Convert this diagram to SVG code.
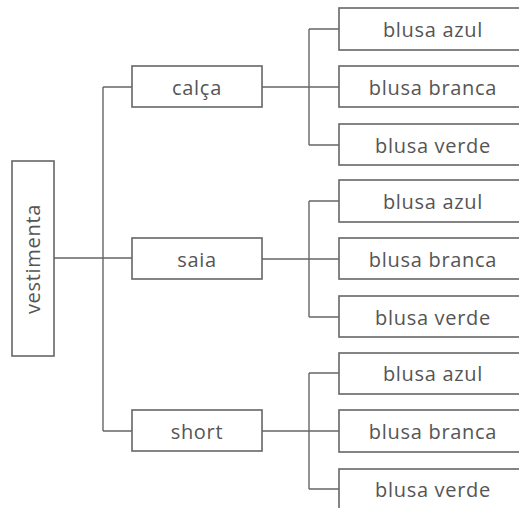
<svg xmlns="http://www.w3.org/2000/svg" width="519" height="508" viewBox="0 0 519 508">
<style>
rect{fill:#fff;stroke:#666;stroke-width:1.6}
text{font-family:"Open Sans","Noto Sans",sans-serif;font-size:20px;letter-spacing:0.7px;fill:#555;text-anchor:middle}
.c path{fill:none;stroke:#666;stroke-width:1.4}
</style>
<rect width="519" height="508" style="fill:#fff;stroke:none"/>
<g class="c" id="connectors">
<path d="M54 258H132M103 87V431M103 87H132M103 431H132"/>
<path d="M262 87H339M309 29V145M309 29H339M309 145H339"/>
<path d="M262 259H339M309 201V317M309 201H339M309 317H339"/>
<path d="M262 431H339M309 373V489M309 373H339M309 489H339"/>
</g>
<g id="vestimenta"><rect x="12" y="161" width="42" height="195"/><text transform="translate(40 259) rotate(-90)">vestimenta</text></g>
<g id="calca"><rect x="132" y="66" width="130" height="41"/><text x="197" y="95">calça</text></g>
<g id="saia"><rect x="132" y="238" width="130" height="41"/><text x="197" y="267">saia</text></g>
<g id="short"><rect x="132" y="410" width="130" height="41"/><text x="197" y="439">short</text></g>
<g id="c-azul"><rect x="339" y="8" width="188" height="42"/><text x="433" y="37">blusa azul</text></g>
<g id="c-branca"><rect x="339" y="66" width="188" height="41"/><text x="433" y="95">blusa branca</text></g>
<g id="c-verde"><rect x="339" y="124" width="188" height="41"/><text x="433" y="153">blusa verde</text></g>
<g id="s-azul"><rect x="339" y="180" width="188" height="42"/><text x="433" y="209">blusa azul</text></g>
<g id="s-branca"><rect x="339" y="238" width="188" height="41"/><text x="433" y="267">blusa branca</text></g>
<g id="s-verde"><rect x="339" y="296" width="188" height="41"/><text x="433" y="325">blusa verde</text></g>
<g id="h-azul"><rect x="339" y="353" width="188" height="41"/><text x="433" y="381">blusa azul</text></g>
<g id="h-branca"><rect x="339" y="410" width="188" height="42"/><text x="433" y="439">blusa branca</text></g>
<g id="h-verde"><rect x="339" y="469" width="188" height="42"/><text x="433" y="497">blusa verde</text></g>
</svg>
